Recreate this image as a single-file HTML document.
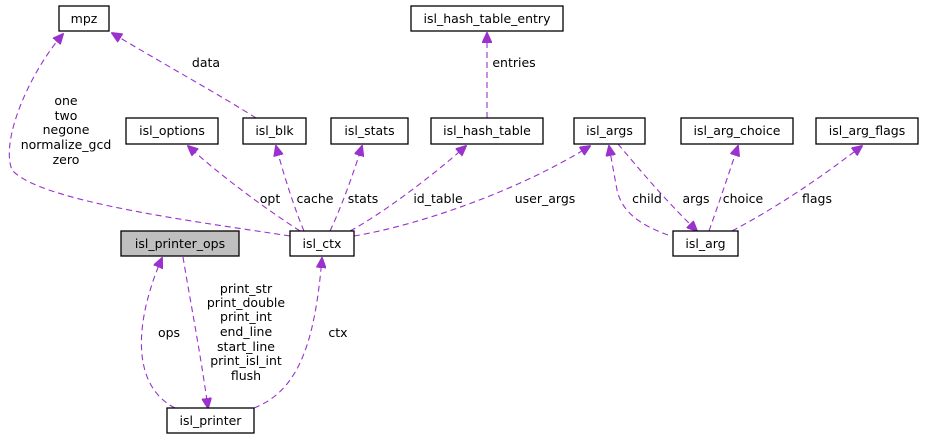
<!DOCTYPE html>
<html><head><meta charset="utf-8"><style>
html,body{margin:0;padding:0;background:#fff;}
svg{display:block;}
text{font-family:"DejaVu Sans","Liberation Sans",sans-serif;font-size:12.5px;fill:#000;}
.b{fill:#fff;stroke:#000;stroke-width:1.3;}
.e{fill:none;stroke:#9a32cd;stroke-width:1.1;stroke-dasharray:6,4;}
</style></head><body>
<svg width="936" height="440" viewBox="0 0 936 440" xmlns="http://www.w3.org/2000/svg">
<defs><marker id="a" markerWidth="11" markerHeight="10" refX="10" refY="5" orient="auto" markerUnits="userSpaceOnUse"><path d="M0,0 L11,5 L0,10 z" fill="#9a32cd" stroke="#9a32cd"/></marker></defs>

<!-- edges -->
<path class="e" marker-end="url(#a)" d="M256,118 C220,95 160,62 112,33"/>
<path class="e" marker-end="url(#a)" d="M290,236 C200,222 40,202 12,170 C0,140 30,72 63,34"/>
<path class="e" marker-end="url(#a)" d="M300,231 C260,205 220,175 188,146"/>
<path class="e" marker-end="url(#a)" d="M304,231 C295,210 284,176 276,146"/>
<path class="e" marker-end="url(#a)" d="M330,231 C340,210 352,178 362,146"/>
<path class="e" marker-end="url(#a)" d="M350,231 C380,215 430,178 466,146"/>
<path class="e" marker-end="url(#a)" d="M354,236 C420,225 520,190 590,146"/>
<path class="e" marker-end="url(#a)" d="M487,118 L487,33"/>
<path class="e" marker-end="url(#a)" d="M668,235 C640,225 622,212 617,190 L609,146"/>
<path class="e" marker-end="url(#a)" d="M618,144 C640,170 665,200 697,231"/>
<path class="e" marker-end="url(#a)" d="M709,231 C720,200 730,170 738,146"/>
<path class="e" marker-end="url(#a)" d="M732,231 C790,200 830,170 862,146"/>
<path class="e" marker-end="url(#a)" d="M175,408 C130,385 135,320 162,258"/>
<path class="e" marker-end="url(#a)" d="M183,257 C190,300 200,350 208,408"/>
<path class="e" marker-end="url(#a)" d="M254,408 C300,390 315,340 322,258"/>

<!-- edge labels -->
<text x="206" y="67" text-anchor="middle">data</text>
<text x="66" y="105" text-anchor="middle">one</text>
<text x="66" y="120" text-anchor="middle">two</text>
<text x="66" y="134" text-anchor="middle">negone</text>
<text x="66" y="149" text-anchor="middle">normalize_gcd</text>
<text x="66" y="164" text-anchor="middle">zero</text>
<text x="270" y="203" text-anchor="middle">opt</text>
<text x="315" y="203" text-anchor="middle">cache</text>
<text x="363" y="203" text-anchor="middle">stats</text>
<text x="438" y="203" text-anchor="middle">id_table</text>
<text x="545" y="203" text-anchor="middle">user_args</text>
<text x="514" y="67" text-anchor="middle">entries</text>
<text x="647" y="203" text-anchor="middle">child</text>
<text x="696" y="203" text-anchor="middle">args</text>
<text x="743" y="203" text-anchor="middle">choice</text>
<text x="817" y="203" text-anchor="middle">flags</text>
<text x="169" y="337" text-anchor="middle">ops</text>
<text x="338" y="337" text-anchor="middle">ctx</text>
<text x="246" y="293" text-anchor="middle">print_str</text>
<text x="246" y="307" text-anchor="middle">print_double</text>
<text x="246" y="321" text-anchor="middle">print_int</text>
<text x="246" y="336" text-anchor="middle">end_line</text>
<text x="246" y="351" text-anchor="middle">start_line</text>
<text x="246" y="365" text-anchor="middle">print_isl_int</text>
<text x="246" y="380" text-anchor="middle">flush</text>

<!-- nodes -->
<rect class="b" x="59" y="6" width="50" height="25"/><text x="84" y="23" text-anchor="middle">mpz</text>
<rect class="b" x="411" y="6" width="152" height="25"/><text x="487" y="23" text-anchor="middle">isl_hash_table_entry</text>
<rect class="b" x="126" y="118" width="92" height="26"/><text x="172" y="135" text-anchor="middle">isl_options</text>
<rect class="b" x="243" y="118" width="63" height="26"/><text x="274.5" y="135" text-anchor="middle">isl_blk</text>
<rect class="b" x="331" y="118" width="77" height="26"/><text x="369.5" y="135" text-anchor="middle">isl_stats</text>
<rect class="b" x="431" y="118" width="112" height="26"/><text x="487" y="135" text-anchor="middle">isl_hash_table</text>
<rect class="b" x="574" y="118" width="71" height="26"/><text x="609.5" y="135" text-anchor="middle">isl_args</text>
<rect class="b" x="681" y="118" width="112" height="26"/><text x="737" y="135" text-anchor="middle">isl_arg_choice</text>
<rect class="b" x="816" y="118" width="102" height="26"/><text x="867" y="135" text-anchor="middle">isl_arg_flags</text>
<rect class="b" x="121" y="231" width="118" height="25" style="fill:#bfbfbf"/><text x="180" y="248" text-anchor="middle">isl_printer_ops</text>
<rect class="b" x="290" y="231" width="64" height="25"/><text x="322" y="248" text-anchor="middle">isl_ctx</text>
<rect class="b" x="673" y="231" width="65" height="25"/><text x="705.5" y="248" text-anchor="middle">isl_arg</text>
<rect class="b" x="167" y="408" width="87" height="25"/><text x="210.5" y="425" text-anchor="middle">isl_printer</text>
</svg>
</body></html>
